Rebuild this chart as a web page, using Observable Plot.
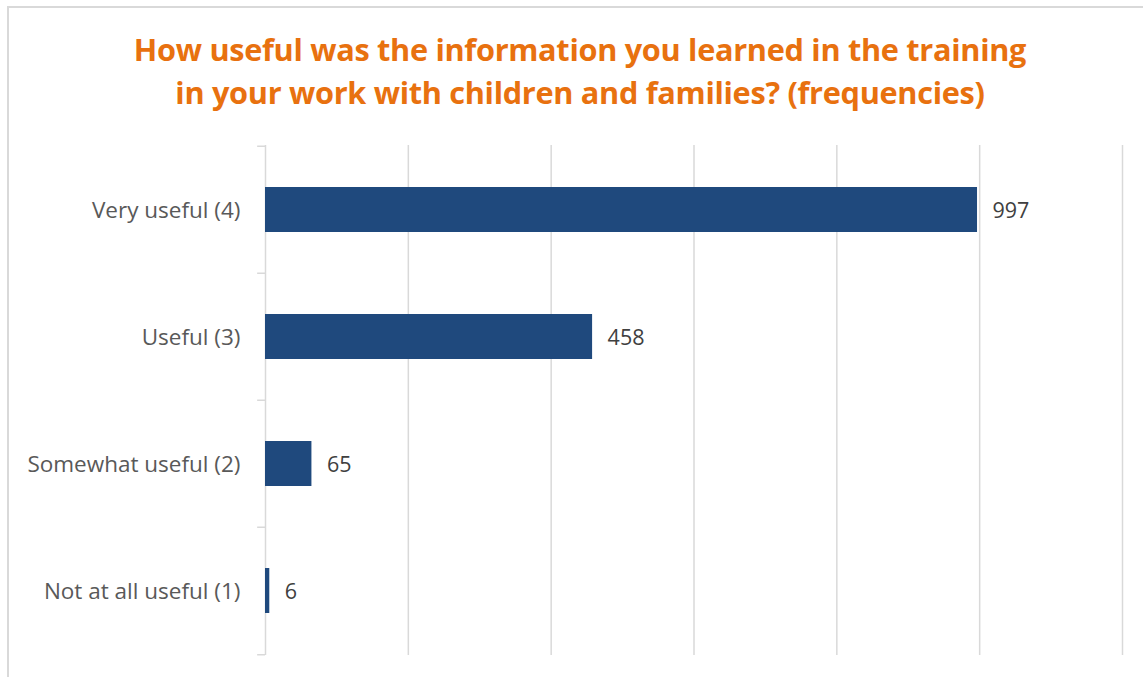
<!DOCTYPE html>
<html>
<head>
<meta charset="utf-8">
<script src="https://cdn.jsdelivr.net/npm/d3@7"></script>
<script src="https://cdn.jsdelivr.net/npm/@observablehq/plot@0.6"></script>
<style>
  html, body { margin: 0; padding: 0; background: #fff; }
  body { width: 1143px; height: 677px; position: relative; overflow: hidden; font-family: "Open Sans", sans-serif; }
  #frame { position: absolute; left: 7px; top: 6px; width: 1300px; height: 800px;
           border-left: 2px solid #d9d9d9; border-top: 2px solid #d9d9d9; }
  #title { position: absolute; left: 0; top: 28px; width: 1160px; text-align: center;
           color: #E8710F; font-weight: 700; font-size: 30.7px; line-height: 43px; letter-spacing: -0.3px; }
  #chart { position: absolute; left: 0; top: 130px; }
</style>
</head>
<body>
<div id="frame"></div>
<div id="title">How useful was the information you learned in the training<br>in your work with children and families? (frequencies)</div>
<div id="chart"></div>
<script>
const categories = ["Very useful (4)", "Useful (3)", "Somewhat useful (2)", "Not at all useful (1)"];
const counts = [997, 458, 65, 6];
const xTicks = [200, 400, 600, 800, 1000, 1200];

const data = categories.map((c, i) => ({category: c, count: counts[i]}));

const W = 1143, H = 547, mt = 15, mb = 22, ml = 265, mr = 21;
const step = (H - mt - mb) / categories.length;
const tickLen = 11; // in x units (~8px)

const chart = Plot.plot({
  width: W, height: H,
  marginTop: mt, marginBottom: mb, marginLeft: ml, marginRight: mr,
  style: {fontFamily: "'Open Sans', sans-serif", background: "transparent"},
  x: {domain: [0, 1200], axis: null},
  y: {domain: categories, paddingInner: 0.645, paddingOuter: 0.3225, axis: null},
  marks: [
    Plot.ruleX(xTicks, {stroke: "#d9d9d9", strokeWidth: 1.5}),
    Plot.ruleX([0], {stroke: "#d9d9d9", strokeWidth: 1.5}),
    Plot.ruleY(categories, {y: d => d, x1: -tickLen, x2: 0, dy: -step / 2, stroke: "#d9d9d9", strokeWidth: 1.5}),
    Plot.ruleY([categories[categories.length - 1]], {y: d => d, x1: -tickLen, x2: 0, dy: step / 2, stroke: "#d9d9d9", strokeWidth: 1.5}),
    Plot.barX(data, {y: "category", x: "count", fill: "#1F497D"}),
    Plot.text(data, {y: "category", x: "count", text: d => String(d.count), textAnchor: "start", dx: 15, dy: 1, fill: "#404040", fontSize: 21.5}),
    Plot.text(data, {y: "category", x: 0, text: "category", textAnchor: "end", dx: -25, dy: 1, fill: "#595959", fontSize: 22.5})
  ]
});
document.getElementById("chart").appendChild(chart);
</script>
</body>
</html>
